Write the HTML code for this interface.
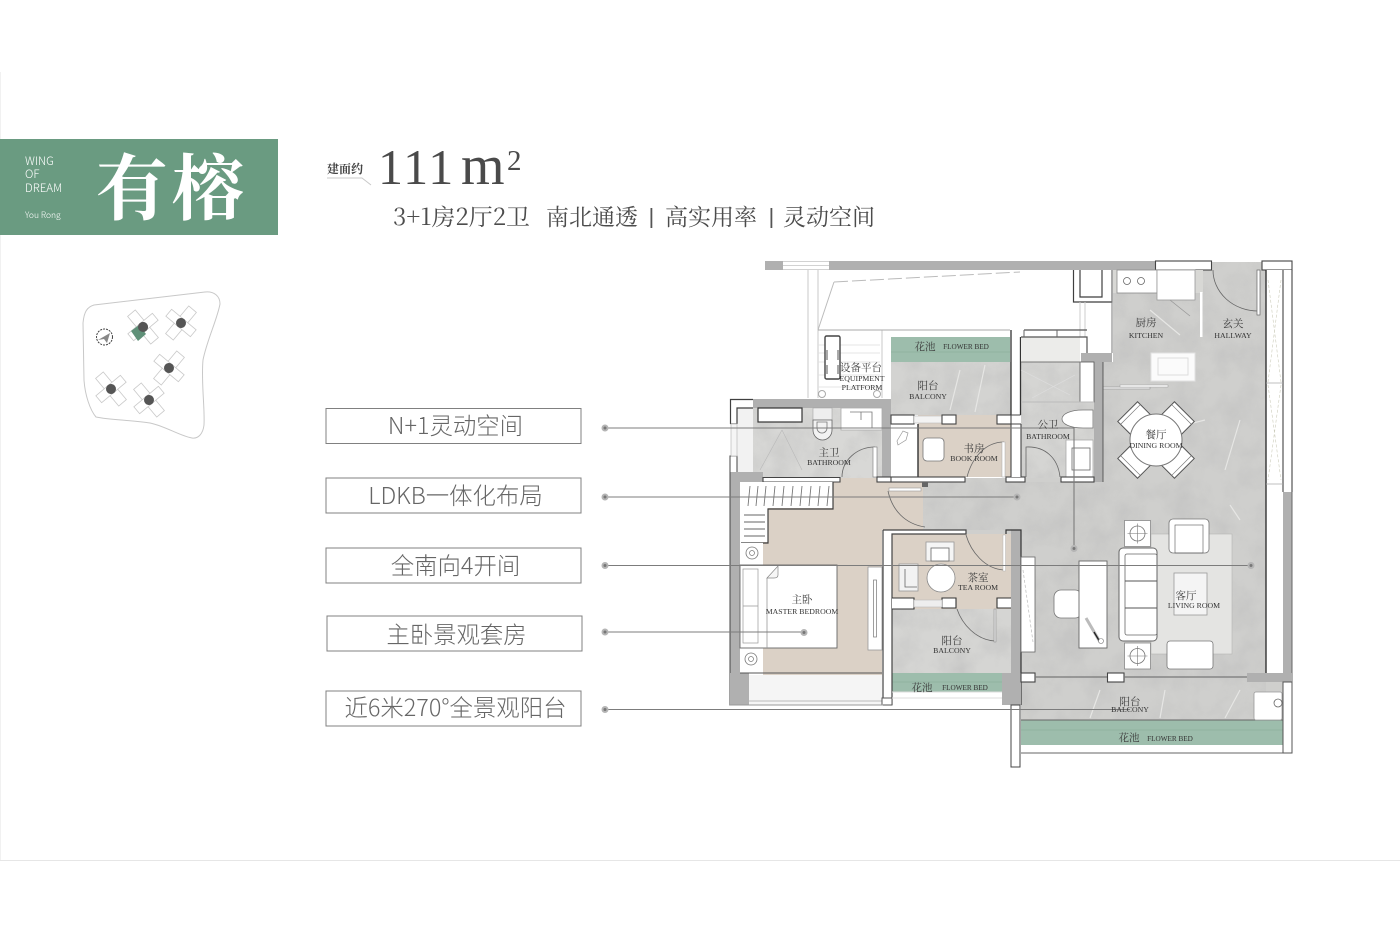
<!DOCTYPE html>
<html lang="zh">
<head>
<meta charset="utf-8">
<title>有榕 111m²</title>
<style>
html,body{margin:0;padding:0;background:#fff;width:1400px;height:933px;overflow:hidden}
svg{display:block}
.s{font-family:"Liberation Serif","Noto Serif CJK SC",serif}
.c{font-family:"Noto Serif CJK SC","Liberation Serif",serif}
.l{font-family:"Noto Sans CJK SC","Liberation Sans",sans-serif;font-weight:300}
.zh{font-family:"Noto Serif CJK SC",serif;font-size:10.5px;fill:#3c3c3c;text-anchor:middle}
.en{font-family:"Liberation Serif",serif;font-size:7.8px;fill:#333;text-anchor:middle}
.fb{font-size:7.2px}
.lab{font-family:"Noto Sans CJK SC","Liberation Sans",sans-serif;font-size:23.4px;fill:#666;text-anchor:middle;font-weight:300}
.w{fill:#fff;stroke:#444;stroke-width:1.1}
.g{fill:#b0b0b0}
.f{fill:#fff;stroke:#8a8a8a;stroke-width:.8}
.d{fill:none;stroke:#666;stroke-width:.8}
.b{fill:none;stroke:#3f3f3f;stroke-width:1.2}
.ld{stroke:#7c7c7c;stroke-width:1.1;fill:none}
</style>
</head>
<body>
<svg width="1400" height="933" viewBox="0 0 1400 933" xmlns="http://www.w3.org/2000/svg">
<defs>
<filter id="st" x="0" y="0" width="100%" height="100%">
<feTurbulence type="fractalNoise" baseFrequency="0.035" numOctaves="4" seed="4"/>
<feColorMatrix values="0 0 0 0 .5  0 0 0 0 .5  0 0 0 0 .5  1.6 0 0 0 -.58"/>
</filter>
<clipPath id="cl">
<path d="M1203 262H1266V720H1021V478H923V530H1021V482H1103V362H1113V293H1203ZM891 362H1011V415H891ZM892 609H1012V673H892ZM753 408H882V478H753ZM1021 362H1094V478H1021Z"/>
</clipPath>
<g id="bld">
<rect x="-5" y="-18" width="10" height="36" fill="#fff" stroke="#c9c9c9" stroke-width=".8"/>
<rect x="-16" y="-4.500" width="32" height="9" fill="#fff" stroke="#c9c9c9" stroke-width=".8"/>
<circle r="5" fill="#555"/>
</g>
<g id="dchair">
<rect x="-14" y="-9" width="28" height="18" fill="#fff" stroke="#555" stroke-width="1"/>
<line x1="-14" y1="-5" x2="14" y2="-5" stroke="#777" stroke-width=".7"/>
</g>
<g id="tbl">
<rect x="-13" y="-13" width="26" height="26" fill="#fff" stroke="#888" stroke-width=".8"/>
<circle r="7.500" fill="none" stroke="#777" stroke-width=".8"/>
<path d="M-10 0H10M0-10V10" stroke="#777" stroke-width=".6"/>
</g>
<g id="night">
<rect x="-11" y="-10" width="22" height="20" fill="#fff"/>
<circle r="6" fill="none" stroke="#777" stroke-width=".8"/>
<circle r="2.500" fill="none" stroke="#777" stroke-width=".7"/>
</g>
</defs>

<rect width="1400" height="933" fill="#fff"/>
<line x1="0" y1="860.500" x2="1400" y2="860.500" stroke="#e6e6e6" stroke-width="1"/>
<line x1="0.500" y1="72" x2="0.500" y2="860" stroke="#f1f1f1" stroke-width="1"/>

<!-- header -->
<rect x="0" y="139" width="278" height="96" fill="#6a9b81"/>
<g class="l" fill="#fff" font-size="11.500">
<text x="25" y="165">WING</text>
<text x="25" y="178">OF</text>
<text x="25" y="192">DREAM</text>
<text x="25" y="218" font-size="8.500">You Rong</text>
</g>
<text x="96" y="214" class="c" font-size="72" font-weight="700" fill="#fff" letter-spacing="4">有榕</text>

<text x="327" y="173" class="c" font-size="12" font-weight="700" fill="#444">建面约</text>
<path d="M327 178H362L371 185" fill="none" stroke="#c9c9c9" stroke-width="1"/>
<text x="378" y="184" class="s" font-size="50" fill="#4a4a4a" letter-spacing="2">111</text>
<text x="461" y="184" class="s" font-size="56" fill="#4a4a4a">m</text>
<text x="507" y="170" class="s" font-size="29" fill="#4a4a4a">2</text>
<g class="c" font-size="23" fill="#4c4c4c">
<text x="393" y="225" textLength="137" lengthAdjust="spacingAndGlyphs">3+1房2厅2卫</text>
<text x="546" y="225">南北通透</text>
<text x="665" y="225">高实用率</text>
<text x="783" y="225">灵动空间</text>
</g>
<rect x="650.500" y="208" width="1.800" height="20" fill="#555"/>
<rect x="770.500" y="208" width="1.800" height="20" fill="#555"/>

<!-- site map -->
<path d="M83 323C84 312 87 307 94 305L205 292C214 291 220 296 220 304C217 320 207 340 203 360C201 382 205 408 204 425C203 434 198 439 192 438C180 436 165 426 150 423C130 420 110 420 96 417C90 410 85 395 84 380Z" fill="#fff" stroke="#c8c8c8" stroke-width="1"/>
<g transform="translate(143 327) rotate(-40)"><use href="#bld"/></g>
<polygon points="131,331 139,325 146,334 138,341" fill="#5f9078"/>
<circle cx="143" cy="327" r="5" fill="#555"/>
<g transform="translate(181 323) rotate(40)"><use href="#bld"/></g>
<g transform="translate(169 368) rotate(40)"><use href="#bld"/></g>
<g transform="translate(111 389) rotate(-40)"><use href="#bld"/></g>
<g transform="translate(149 400) rotate(-40)"><use href="#bld"/></g>
<circle cx="104.500" cy="337" r="8" fill="#fff" stroke="#444" stroke-width="1" stroke-dasharray="2 1"/>
<path d="M98 340L110 333L107 343L104 339Z" fill="#888"/>

<!-- labels -->
<g fill="#fff" stroke="#808080" stroke-width="1">
<rect x="326" y="408.500" width="255" height="35"/>
<rect x="326" y="478" width="255" height="35"/>
<rect x="326" y="548" width="255" height="35"/>
<rect x="327" y="616" width="255" height="35"/>
<rect x="326" y="691" width="255" height="35"/>
</g>
<text x="455.500" y="434" class="lab">N+1灵动空间</text>
<text x="455.500" y="504" class="lab">LDKB一体化布局</text>
<text x="455.500" y="574" class="lab">全南向4开间</text>
<text x="456.500" y="643" class="lab">主卧景观套房</text>
<text x="455.500" y="716" class="lab">近6米270°全景观阳台</text>

<!-- ===== floor plan ===== -->
<!-- floors -->
<g fill="#cfcfcd">
<rect x="1203" y="262" width="63" height="40"/>
<rect x="1113" y="293" width="153" height="190"/>
<rect x="1103" y="362" width="163" height="123"/>
<rect x="923" y="478" width="343" height="195"/>
<rect x="1021" y="673" width="262" height="47"/>
<rect x="891" y="362" width="120" height="53" fill="#d3d3d1"/>
<rect x="892" y="609" width="120" height="64" fill="#d5d5d3"/>
<rect x="753" y="408" width="130" height="70" fill="#d8d8d6"/>
<rect x="1021" y="362" width="73" height="116" fill="#d5d5d3"/>
</g>
<g fill="#dbd1c6">
<rect x="763" y="478" width="119" height="197"/>
<rect x="882" y="478" width="41" height="52"/>
<rect x="918" y="415" width="93" height="62"/>
<rect x="892" y="534" width="120" height="75"/>
</g>
<rect x="740" y="262" width="560" height="470" filter="url(#st)" clip-path="url(#cl)" opacity=".6"/>
<path d="M1100 690L1090 718M1240 690L1225 718M1185 425L1205 420M1240 520L1230 505M1165 690L1160 718M1150 310L1180 335M1240 420L1225 470M960 370L950 410M985 365L975 412" stroke="#e6e6e4" stroke-width="1.200" fill="none"/>
<rect x="737" y="408" width="16" height="66" fill="#f2f2f2"/>

<!-- green flower beds -->
<rect x="891" y="337" width="119" height="25" fill="#9dbdac"/>
<line x1="891" y1="352" x2="1010" y2="352" stroke="#86a896" stroke-width=".6"/>
<rect x="892" y="673" width="110" height="19" fill="#9dbdac"/>
<line x1="892" y1="682" x2="1002" y2="682" stroke="#86a896" stroke-width=".6"/>
<rect x="1021" y="720" width="262" height="25" fill="#9dbdac"/>
<line x1="1021" y1="730" x2="1283" y2="730" stroke="#86a896" stroke-width=".6"/>
<path d="M1021 720H1283M1021 753H1283" stroke="#666" stroke-width="1"/>

<!-- equipment platform outlines -->
<path d="M808 270V398M818 270V398M882 330V398" stroke="#cacaca" stroke-width="1" fill="none"/>
<path d="M818 330L834 282" stroke="#bbb" fill="none"/>
<path d="M834 282L1020 272" stroke="#bbb" stroke-dasharray="14 4" fill="none"/>
<path d="M818 330H1010" stroke="#aaa" stroke-width="1" fill="none"/>
<path d="M818 345H880M818 353H880M818 362H880M818 375H880M818 387H880" stroke="#ddd" stroke-width=".8"/>
<rect x="825" y="336" width="15" height="43" rx="1.500" fill="#fff" stroke="#444" stroke-width="1.400"/>
<path d="M827 350V360M838 350V360M827 365V374M838 365V374" stroke="#555" stroke-width="1"/>
<circle cx="822" cy="394" r="3.500" fill="#fff" stroke="#aaa"/>
<circle cx="877" cy="394" r="3.500" fill="#fff" stroke="#aaa"/>

<!-- top beam -->
<rect x="765" y="261" width="390" height="9" fill="#b0b0b0"/>
<rect x="783" y="261" width="46" height="9" fill="#fff"/>
<path d="M783 261.500H829M783 265.500H829M783 269.500H829" stroke="#c4c4c4" stroke-width=".8"/>
<rect x="1155.500" y="261" width="56" height="9" class="w"/>
<rect x="1262" y="261" width="30" height="9" class="w"/>

<!-- duct / kitchen upper left -->
<path d="M1073.500 270V302H1112V270M1080 270V297H1102V270" class="b" fill="none"/>
<path d="M1080 302V353M1085 302V353" stroke="#ccc"/>
<path d="M1112 270V353" stroke="#777" stroke-width="1"/>
<rect x="1113" y="270" width="90" height="23" fill="#d8d8d5"/>
<rect x="1117" y="270" width="40" height="23" class="f"/>
<circle cx="1127" cy="281" r="3.500" class="d"/><circle cx="1141" cy="281" r="3.500" class="d"/>
<rect x="1157" y="270" width="38" height="30" fill="#fff" stroke="#999" stroke-width=".8"/>
<rect x="1200" y="292" width="2.500" height="45" fill="#fff"/>
<path d="M1170 300L1190 316" stroke="#999" stroke-width=".8"/>
<rect x="1151" y="353" width="44" height="28" fill="#fbfbfb" stroke="#e2e2e2"/>
<rect x="1158" y="358" width="30" height="17" fill="none" stroke="#ddd"/>
<rect x="1103" y="387" width="47" height="2" fill="#eee" stroke="#888" stroke-width=".5"/>
<rect x="1120" y="385" width="48" height="2" fill="#fff" stroke="#999" stroke-width=".5"/>

<!-- hallway door -->
<path d="M1213 270A45 41 0 0 0 1258 311" class="d" stroke="#555"/>
<rect x="1257" y="270" width="3" height="45" fill="#fff" stroke="#666" stroke-width=".7"/>

<!-- window east -->
<rect x="1266" y="270" width="17" height="403" fill="#fff"/>
<rect x="1283" y="270" width="9" height="222" fill="#fff"/>
<path d="M1266 270V673" stroke="#333" stroke-width="1.400"/>
<path d="M1283 270V492M1292 270V492" stroke="#444" stroke-width="1.100"/>
<rect x="1283" y="492" width="9" height="190" fill="#b0b0b0"/>
<path d="M1292 492V682" stroke="#666"/>
<path d="M1268 280L1281 382M1281 280L1268 382M1268 385L1281 480M1281 385L1268 480" stroke="#ccb" stroke-width=".6" stroke-dasharray="3 2"/>
<path d="M1266 383H1283M1266 484H1283" stroke="#aaa" stroke-width=".8"/>

<!-- master bath & walls -->
<rect x="753" y="399" width="138" height="9" class="g"/>
<rect x="730" y="399" width="23" height="9" fill="#fff"/>
<path d="M730.500 424V399.500H753M737 424V408H753M730.500 424H737" class="b"/>
<rect x="882" y="408" width="9" height="74" class="g"/>
<rect x="730" y="456" width="7" height="18" fill="#fff" stroke="#444"/>
<rect x="731" y="424" width="6" height="32" fill="#f5f5f5" stroke="#bbb" stroke-width=".7"/>
<rect x="730" y="472" width="33" height="10" class="g"/>
<rect x="730" y="472" width="10" height="233" class="g"/>
<path d="M730 472V705H749" stroke="#444" stroke-width="1" fill="none"/>
<rect x="730" y="673" width="19" height="32" class="g"/>
<rect x="758" y="408" width="44" height="14" fill="#fff" stroke="#333" stroke-width="1.200"/>
<rect x="813" y="408" width="19" height="12" fill="#eee" stroke="#999" stroke-width=".5"/>
<path d="M813 420V430A9.500 10 0 0 0 832 430V420Z" fill="#f2f2f2" stroke="#666" stroke-width=".8"/>
<path d="M817 422V428A5 5 0 0 0 827 428V422Z" fill="none" stroke="#777" stroke-width=".8"/>
<rect x="841" y="408" width="41" height="22" fill="#fff" stroke="#aaa" stroke-width=".8"/>
<path d="M850 412H872V428M861 412V420" stroke="#777" stroke-width=".8" fill="none"/>
<path d="M760 470L782 430M802 470L782 430" stroke="#b8b8b8" stroke-width=".6"/>
<path d="M842 477A33 30 0 0 1 875 447" class="d"/>
<rect x="873" y="447" width="4" height="30" fill="#fff" stroke="#777" stroke-width=".6"/>
<path d="M763 477.500H840V482H763Z" class="w"/>
<rect x="877" y="477" width="14" height="5" class="w"/>

<!-- closet -->
<rect x="740" y="482" width="93" height="26" fill="#fff"/>
<rect x="740" y="508" width="28" height="34" fill="#fff"/>
<path d="M833 482V509H768V543H741" class="b"/>
<path d="M750 486L748 506M758 486L756 506M766 486L764 506M775 486L773 506M784 486L782 506M793 486L791 506M802 486L800 506M811 486L809 506M820 486L818 506M829 486L827 506" stroke="#777" stroke-width=".9"/>
<path d="M744 515H765M744 522H765M744 529H765M744 536H765" stroke="#666" stroke-width=".9"/>

<!-- master bedroom furniture -->
<use href="#night" x="752" y="553"/>
<use href="#night" x="751" y="659"/>
<rect x="740" y="565" width="97" height="83" fill="#fff" stroke="#666" stroke-width=".9"/>
<rect x="743" y="569" width="15" height="74" fill="#fff" stroke="#999" stroke-width=".7"/>
<path d="M743 606H758M767 578V648" stroke="#999" stroke-width=".8"/>
<path d="M767 578L778 566V575Q778 578 774 578Z" fill="#f6f6f6" stroke="#888" stroke-width=".7"/>
<rect x="868" y="567" width="14" height="83" fill="#fff" stroke="#999" stroke-width=".8"/>
<rect x="873.500" y="580" width="3" height="57" fill="#fff" stroke="#777" stroke-width=".7"/>
<rect x="749" y="675" width="133" height="30" fill="#f5f5f5"/>
<path d="M749 701H882" stroke="#bbb" stroke-width="1"/>
<path d="M740 673H882" stroke="#555" stroke-width="1"/>

<!-- book room + column -->
<rect x="891" y="424" width="27" height="53" fill="#fff"/>
<path d="M918 424V477" stroke="#333" stroke-width="1.400"/>
<rect x="891" y="415" width="23" height="9" class="w"/>
<rect x="914" y="416" width="28" height="7" fill="#f3f3f3" stroke="#bbb" stroke-width=".6"/>
<rect x="942" y="415" width="14" height="9" class="w"/>
<rect x="997" y="415" width="14" height="9" class="w"/>
<path d="M897 441L903 431L908 433L906 440L898 445Z" fill="none" stroke="#999" stroke-width=".7"/>
<rect x="923" y="438" width="21" height="23" rx="4" fill="#fff" stroke="#777" stroke-width=".8"/>
<path d="M967 477C972 458 985 442 1004 442" class="d"/>
<rect x="1002" y="442" width="3" height="35" fill="#fff" stroke="#aaa" stroke-width=".5"/>
<rect x="891" y="477" width="74" height="5" class="w"/>
<rect x="1006" y="477" width="19" height="5" class="w"/>
<rect x="922" y="482" width="6" height="5" fill="#666"/>
<rect x="889" y="488" width="32" height="3" fill="#fff" stroke="#999" stroke-width=".6"/>
<path d="M888 491C892 510 905 524 925 527" class="d"/>

<!-- wall between balcony & public bath -->
<rect x="1011" y="330" width="9.500" height="85" fill="#fff"/>
<path d="M1011 330V415M1020.500 337V415" stroke="#333" stroke-width="1.300"/>
<rect x="1011" y="424" width="10" height="53" fill="#fff"/>
<path d="M1011 424V477M1021 424V477" stroke="#444" stroke-width="1.100"/>
<path d="M1011 415H1020.500M1011 424H1021" stroke="#444" stroke-width="1"/>

<!-- public bath -->
<rect x="1021" y="337" width="59" height="25" fill="#ececea"/>
<rect x="1080" y="337" width="7" height="16" fill="#fff"/>
<path d="M1021 337H1087V353M1024 330H1087" stroke="#555" stroke-width="1.200" fill="none"/>
<path d="M1024 330V337M1057 330V337" stroke="#666"/>
<rect x="1081" y="353" width="31" height="9" class="g"/>
<rect x="1094" y="362" width="9" height="120" class="g"/>
<path d="M1103 362V482" stroke="#444" stroke-width=".8"/>
<rect x="1080" y="362" width="14" height="40" fill="#fff" stroke="#555" stroke-width=".8"/>
<path d="M1021 362H1081" stroke="#777"/>
<path d="M1021 402H1094" stroke="#bbb"/>
<path d="M1021 370L1070 395M1032 398L1075 375" stroke="#ddd" stroke-width=".7"/>
<path d="M1083 410H1093V428H1083C1070 428 1062 424 1062 419C1062 414 1070 410 1083 410Z" fill="#fff" stroke="#777" stroke-width=".8"/>
<rect x="1066" y="440" width="27" height="37" fill="#fff" stroke="#aaa" stroke-width=".8"/>
<rect x="1072" y="448" width="18" height="22" fill="none" stroke="#666" stroke-width=".8"/>
<path d="M1026 477V447C1045 446 1058 458 1060 477" class="d"/>
<rect x="1061" y="477" width="33" height="5" class="w"/>

<!-- dining -->
<g transform="translate(1134 418) rotate(-45)"><use href="#dchair"/></g>
<g transform="translate(1178 418) rotate(45)"><use href="#dchair"/></g>
<g transform="translate(1134 462) rotate(-135)"><use href="#dchair"/></g>
<g transform="translate(1178 462) rotate(135)"><use href="#dchair"/></g>
<circle cx="1156" cy="440" r="26" fill="#fff" stroke="#777" stroke-width="1"/>

<!-- tea room -->
<rect x="883" y="531" width="9" height="174" fill="#fff"/>
<rect x="883" y="530" width="83" height="4" fill="#fff"/>
<path d="M883 530H966V534H892V705M883 530V705" fill="none" stroke="#444" stroke-width="1.200"/>
<path d="M892 609H914V598H892M942 598H956V608H942ZM997 598H1012V608H997Z" fill="#fff" stroke="#333" stroke-width="1.100"/>
<rect x="914" y="600" width="28" height="7" fill="#eee" stroke="#bbb" stroke-width=".6"/>
<rect x="926" y="542" width="28" height="19" fill="#f5f5f5" stroke="#999" stroke-width=".8"/>
<rect x="931" y="548" width="18" height="13" fill="#fff" stroke="#666" stroke-width=".8"/>
<rect x="899" y="564" width="19" height="27" fill="#f2f2f2" stroke="#999" stroke-width=".8"/>
<path d="M905 569V587H917" stroke="#666" fill="none" stroke-width=".8"/>
<circle cx="941" cy="578" r="14" fill="#fff" stroke="#888" stroke-width=".8"/>
<path d="M966 535C971 552 985 569 1004 570" class="d"/>
<rect x="1003" y="535" width="2.500" height="36" fill="#fff" stroke="#aaa" stroke-width=".4"/>
<path d="M957 609C962 624 976 640 995 641" class="d"/>
<rect x="994" y="609" width="2" height="33" fill="#ddd" stroke="#777" stroke-width=".4"/>
<rect x="882" y="698" width="10" height="7" fill="#fff" stroke="#555"/>
<path d="M892 692H1002M892 698H1002" stroke="#ddd"/>

<!-- east wall of tea room -->
<rect x="1011" y="530" width="10" height="175" class="g"/>
<path d="M1006 534V530H1021V705" fill="none" stroke="#333" stroke-width="1.200"/>
<rect x="1002" y="673" width="19" height="32" class="g"/>
<rect x="1021" y="557" width="14" height="95" fill="#fff" stroke="#666" stroke-width=".8"/>
<path d="M1023 570L1033 642" stroke="#bbb" stroke-dasharray="3 2" stroke-width=".7"/>
<rect x="1011" y="705" width="9" height="62" fill="#fff" stroke="#444" stroke-width="1"/>

<!-- living -->
<rect x="1151" y="534" width="81" height="120" fill="#e4e4e2"/>
<rect x="1151" y="534" width="81" height="120" fill="none" stroke="#b5b5b3" stroke-width=".6"/>
<use href="#tbl" x="1137.500" y="533.500"/>
<use href="#tbl" x="1137.500" y="656"/>
<rect x="1169" y="519" width="40" height="34" rx="4" fill="#fff" stroke="#777" stroke-width=".8"/>
<rect x="1175" y="525" width="28" height="28" fill="none" stroke="#555" stroke-width=".6"/>
<rect x="1119" y="548" width="38" height="93" rx="4" fill="#fff" stroke="#666" stroke-width="1"/>
<rect x="1125" y="554" width="32" height="81" rx="2" fill="none" stroke="#666" stroke-width=".8"/>
<path d="M1125 581H1157M1125 608H1157" stroke="#555" stroke-width=".9"/>
<rect x="1174" y="573" width="33" height="42" fill="#f4f4f4" stroke="#999" stroke-width=".8"/>
<rect x="1167" y="641" width="46" height="28" rx="3" fill="#fff" stroke="#777" stroke-width=".8"/>
<rect x="1054" y="590" width="28" height="28" rx="7" fill="#fff" stroke="#777" stroke-width=".8"/>
<rect x="1079" y="561" width="28" height="87" fill="#fff" stroke="#666" stroke-width=".9"/>
<path d="M1086 618L1100 642" stroke="#bbb" stroke-width="3"/>
<path d="M1094 632L1100 642" stroke="#222" stroke-width="1.400"/>
<circle cx="1101" cy="641" r="2.500" fill="#fff" stroke="#777" stroke-width=".6"/>

<!-- south wall row -->
<rect x="1021" y="673" width="14" height="9" class="w"/>
<rect x="1107.500" y="673" width="16.500" height="9" class="w"/>
<path d="M1035 677H1107M1124 677H1247" stroke="#777" stroke-width="1.200"/>
<rect x="1247" y="673" width="45" height="9" class="g"/>
<rect x="1283" y="682" width="9" height="71" fill="#fff" stroke="#555" stroke-width="1"/>
<rect x="1254" y="692" width="28" height="28" rx="2" fill="#fff" stroke="#999" stroke-width=".8"/>
<circle cx="1278" cy="703" r="4" class="d"/>
<path d="M730 705H883" stroke="#999" stroke-width="1"/>

<!-- leaders -->
<g class="ld">
<path d="M605 428H1074V548"/>
<path d="M605 497H1017"/>
<path d="M605 565.500H1251"/>
<path d="M605 632H804"/>
<path d="M605 709.500H1130"/>
</g>
<g fill="#777" stroke="#b5b5b5" stroke-width="2">
<circle cx="605" cy="428" r="2.500"/><circle cx="605" cy="497" r="2.500"/><circle cx="605" cy="565.500" r="2.500"/><circle cx="605" cy="632" r="2.500"/><circle cx="605" cy="709.500" r="2.500"/>
<circle cx="1074" cy="548.500" r="2.500"/><circle cx="1017" cy="497" r="2.500"/><circle cx="1251" cy="565.500" r="2.500"/><circle cx="804" cy="632.500" r="2.500"/>
</g>

<!-- room text -->
<text x="925" y="350" class="zh">花池</text><text x="966" y="349" class="en fb">FLOWER BED</text>
<text x="922" y="691" class="zh">花池</text><text x="965" y="690" class="en fb">FLOWER BED</text>
<text x="1129" y="741" class="zh">花池</text><text x="1170" y="741" class="en fb">FLOWER BED</text>
<text x="861" y="371" class="zh">设备平台</text>
<text x="862" y="381" class="en">EQUIPMENT</text><text x="862" y="390" class="en">PLATFORM</text>
<text x="928" y="389" class="zh">阳台</text><text x="928" y="399" class="en">BALCONY</text>
<text x="829" y="456" class="zh">主卫</text><text x="829" y="465" class="en">BATHROOM</text>
<text x="974" y="452" class="zh">书房</text><text x="974" y="461" class="en">BOOK ROOM</text>
<text x="1048" y="428" class="zh">公卫</text><text x="1048" y="439" class="en">BATHROOM</text>
<text x="1146" y="326" class="zh">厨房</text><text x="1146" y="338" class="en">KITCHEN</text>
<text x="1233" y="327" class="zh">玄关</text><text x="1233" y="338" class="en">HALLWAY</text>
<text x="1156" y="438" class="zh">餐厅</text><text x="1156" y="448" class="en">DINING ROOM</text>
<text x="802" y="603" class="zh">主卧</text><text x="802" y="614" class="en">MASTER BEDROOM</text>
<text x="978" y="581" class="zh">茶室</text><text x="978" y="590" class="en">TEA ROOM</text>
<text x="952" y="644" class="zh">阳台</text><text x="952" y="653" class="en">BALCONY</text>
<text x="1186" y="599" class="zh">客厅</text><text x="1194" y="608" class="en">LIVING ROOM</text>
<text x="1130" y="705" class="zh">阳台</text><text x="1130" y="712" class="en">BALCONY</text>
</svg>
</body>
</html>
